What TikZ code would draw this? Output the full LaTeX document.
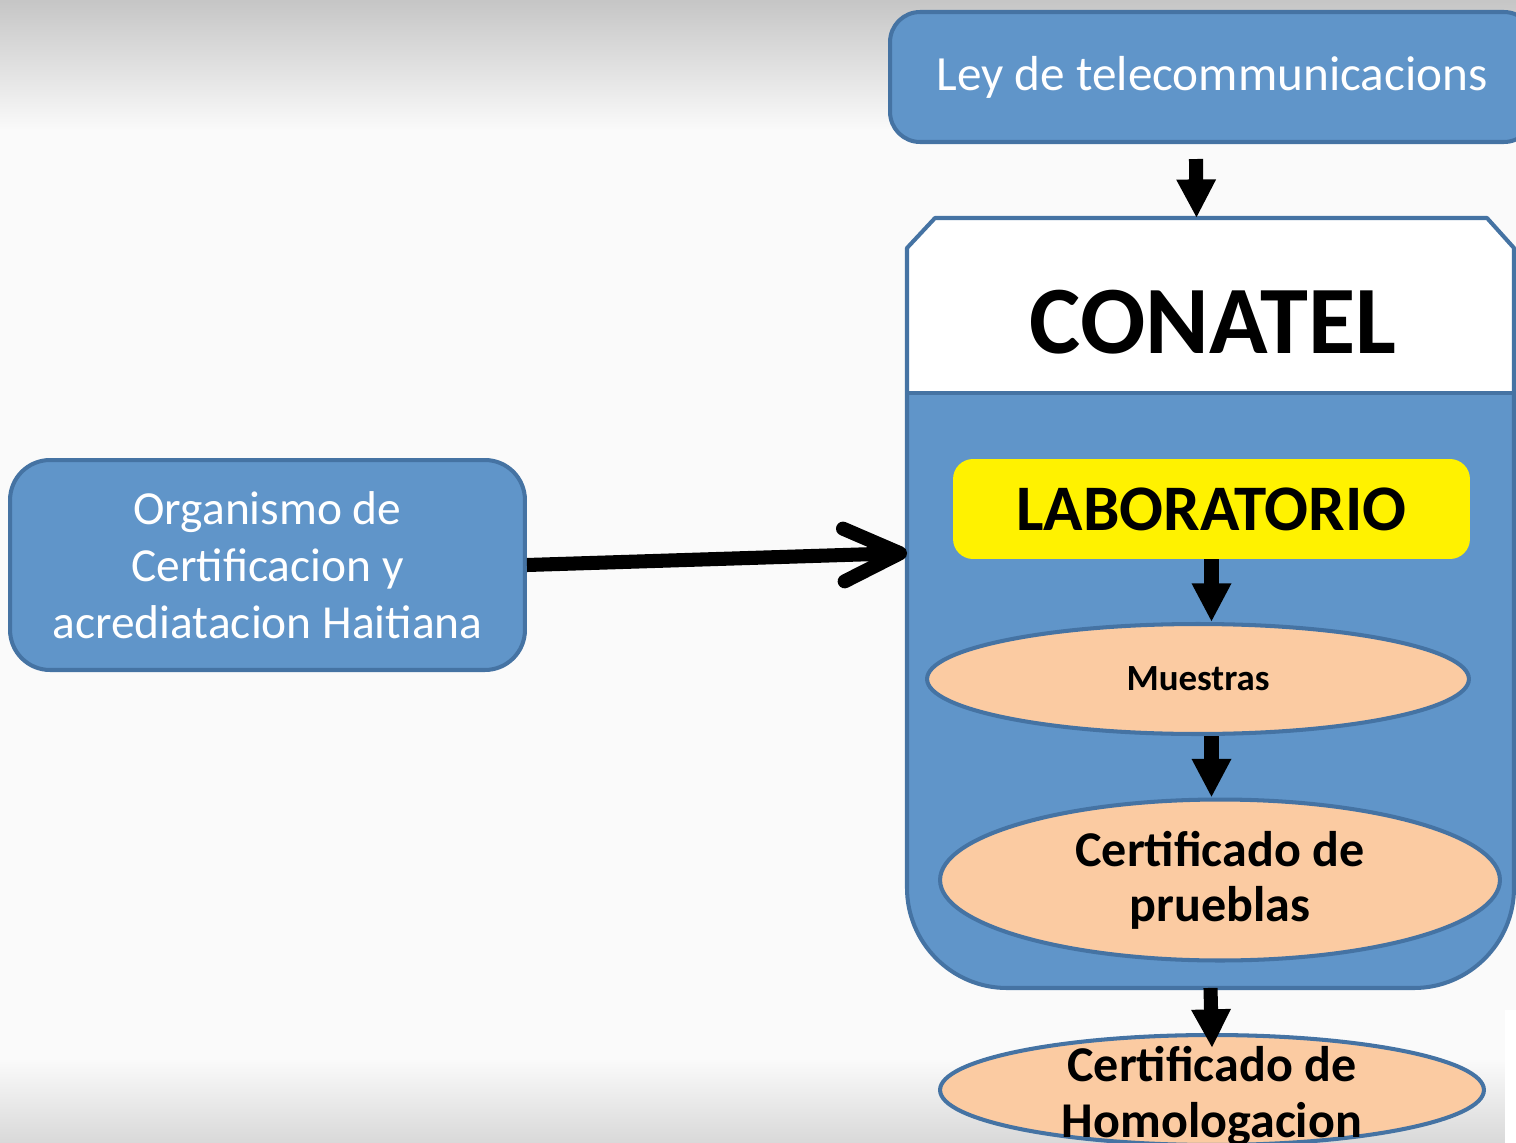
\documentclass[tikz,border=0pt]{standalone}
\usepackage{fontspec}
\setmainfont{Carlito}
\usetikzlibrary{arrows.meta,shapes.geometric}

\definecolor{fond}{RGB}{250,250,250}
\definecolor{bleu}{RGB}{96,149,201}
\definecolor{bord}{RGB}{69,115,163}
\definecolor{peche}{RGB}{251,203,162}

\begin{document}
\begin{tikzpicture}[x=0.02cm, y=-0.02cm]
        % Style des noeuds
        \tikzstyle{bloc} = [rectangle, rounded corners=0.8cm, draw=bord, line width=2.3pt, fill=bleu, text=white, align=center]
        \tikzstyle{labo} = [rectangle, rounded corners=0.4cm, fill=yellow, minimum width=10.34cm, minimum height=2cm, font=\bfseries\fontsize{37}{44}\selectfont]
        \tikzstyle{etape} = [ellipse, draw=bord, line width=2.3pt, fill=peche, inner sep=0pt, align=center, font=\bfseries\fontsize{28.5}{31.5}\selectfont]
        \tikzstyle{fleche} = [line width=8pt, -{Triangle[width=21pt,length=22pt]}]

        % Fond
        \useasboundingbox (0,0) rectangle (1516,1143);
        \clip (0,0) rectangle (1516,1143);
        \fill[fond] (0,0) rectangle (1516,1143);
        \shade[top color=gray!45, bottom color=fond] (0,0) rectangle (1516,130);
        \shade[top color=fond, bottom color=gray!30] (0,1060) rectangle (1516,1143);
        \fill[white] (1505,1010) rectangle (1516,1143);

        % Boite CONATEL
        \fill[bleu] (907,248) -- (935,218) -- (1487,218) -- (1514,248) -- (1514,888)
            .. controls (1514,943) and (1469,988) .. (1414,988) -- (1007,988)
            .. controls (952,988) and (907,943) .. (907,888) -- cycle;
        \fill[white] (907,248) -- (935,218) -- (1487,218) -- (1514,248) -- (1514,393) -- (907,393) -- cycle;
        \draw[bord, line width=2.3pt, line join=round] (907,248) -- (935,218) -- (1487,218) -- (1514,248) -- (1514,888)
            .. controls (1514,943) and (1469,988) .. (1414,988) -- (1007,988)
            .. controls (952,988) and (907,943) .. (907,888) -- cycle;
        \draw[bord, line width=2.3pt] (907,393) -- (1514,393);
        \node[inner sep=0pt, outer sep=0pt, minimum width=12.14cm, minimum height=15.4cm] (conatel) at (1210.5,603) {};

        % Definition des noeuds
        \node[bloc, rounded corners=0.6cm, minimum width=12.88cm, minimum height=2.6cm, font=\fontsize{28}{34}\selectfont] (ley) at (1212,77) {Ley de telecommunicacions};
        \node[bloc, minimum width=10.3cm, minimum height=4.2cm, font=\fontsize{27}{32.5}\selectfont] (org) at (267.5,565) {Organismo de\\ Certificacion y\\ acrediatacion Haitiana};
        \node[font=\bfseries\fontsize{55}{60}\selectfont] (titre) at (1213,322) {CONATEL};
        \node[labo] (labo) at (1211.5,509) {LABORATORIO};
        \node[etape, minimum width=10.84cm, minimum height=2.2cm, font=\bfseries\fontsize{21}{24}\selectfont] (muestras) at (1198,679) {Muestras};
        \node[etape, minimum width=11.2cm, minimum height=3.22cm] (pruebas) at (1220,880) {Certificado de\\ prueblas};
        \node[etape, minimum width=10.88cm, minimum height=2.2cm] (homol) at (1212,1090) {};
        \node[font=\bfseries\fontsize{28.5}{31.5}\selectfont, align=center] (homoltxt) at (1212,1096) {Certificado de\\ Homologacion};

        % Fleches
        \draw[fleche] ([shift={(-16,15)}]ley.south) -- ([shift={(-14,0)}]conatel.north);
        \draw[line width=8pt, -{Straight Barb[round, length=32pt, width=30pt]}] (org.east) -- ([shift={(0,-50)}]conatel.west);
        \draw[fleche] (labo.south) -- (labo.south |- muestras.north);
        \draw[fleche] (labo.south |- muestras.south) -- (labo.south |- pruebas.north);
        \draw[fleche] (conatel.south) -- ([shift={(0,15)}]homol.north);

    \end{tikzpicture}
\end{document}
